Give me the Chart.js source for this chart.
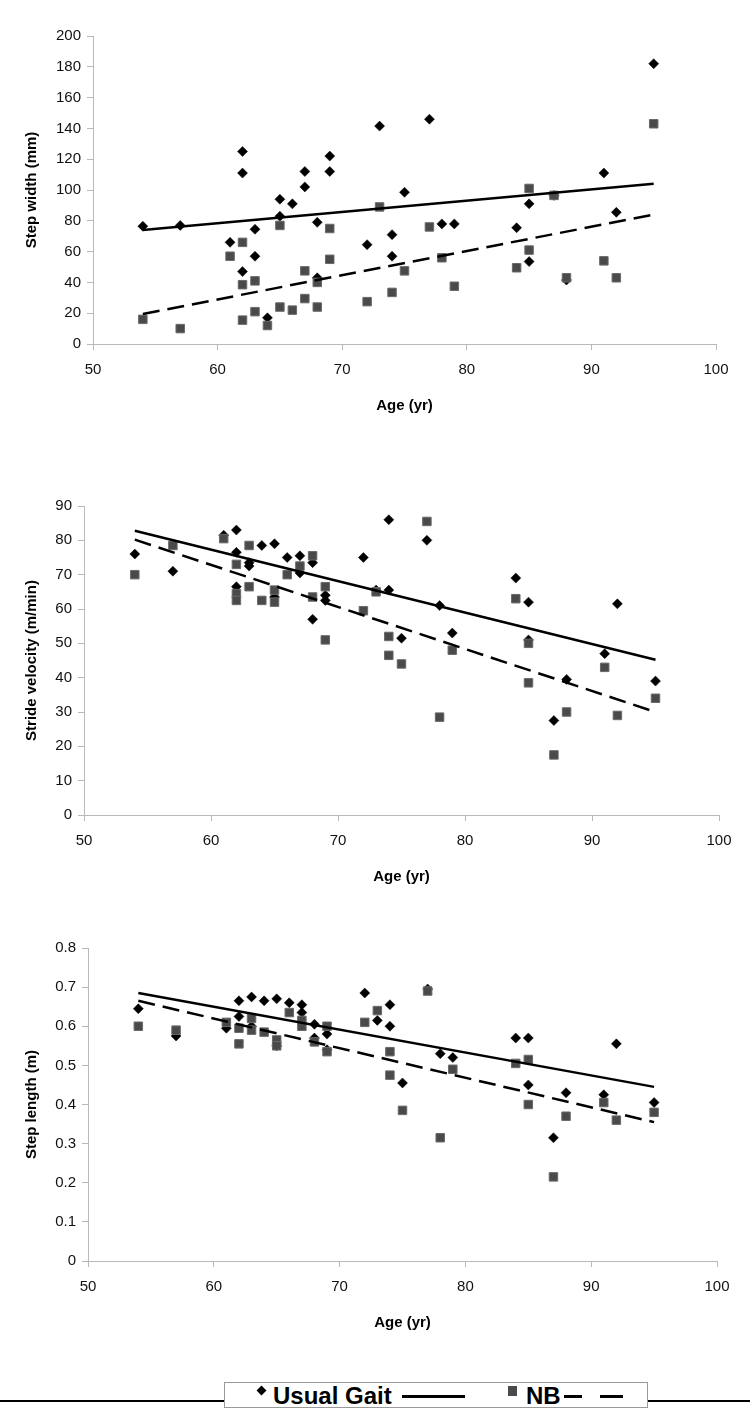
<!DOCTYPE html>
<html>
<head>
<meta charset="utf-8">
<script src="https://cdn.jsdelivr.net/npm/chart.js@4.4.1/dist/chart.umd.min.js"></script>
<style>
  body { margin: 0; background: #fff; width: 750px; height: 1408px; position: relative; overflow: hidden; font-family: "Liberation Sans", Arial, sans-serif; }
  canvas { position: absolute; left: 0; }
  #rule { position: absolute; left: 0; top: 1400px; width: 750px; height: 2px; background: #000; }
  #legend { position: absolute; left: 224px; top: 1382px; width: 424px; height: 26px; background: #fff; border: 1px solid #9a9a9a; box-sizing: border-box; }
  #legend .txt { position: absolute; top: 0; height: 25px; line-height: 25px; font-size: 24px; font-weight: bold; color: #000; white-space: nowrap; }
  #legend .diamond { position: absolute; width: 7px; height: 7px; background: #000; transform: rotate(45deg); }
  #legend .square { position: absolute; width: 9px; height: 10px; background: #4a4a4a; }
  #legend .stroke { position: absolute; height: 3px; background: #000; }
</style>
</head>
<body>
<canvas id="widthChart" width="750" height="415" style="top:0px"></canvas>
<canvas id="velocityChart" width="750" height="446" style="top:440px"></canvas>
<canvas id="lengthChart" width="750" height="442" style="top:890px"></canvas>

<div id="rule"></div>
<div id="legend">
  <div class="diamond" style="left:33px; top:4px;"></div>
  <div class="txt" style="left:48px;">Usual Gait</div>
  <div class="stroke" style="left:177px; top:12px; width:63px;"></div>
  <div class="square" style="left:283px; top:3px;"></div>
  <div class="txt" style="left:301px;">NB</div>
  <div class="stroke" style="left:339px; top:12px; width:18px;"></div>
  <div class="stroke" style="left:375px; top:12px; width:23px;"></div>
</div>

<script>
// Step width (mm)
const widthUsualAges = [54, 57, 61, 62, 62, 62, 63, 63, 64, 65, 65, 66, 67, 67, 68, 68, 69, 69, 72, 73, 74, 74, 75, 77, 78, 79, 84, 85, 85, 87, 88, 91, 92, 95];
const widthUsual = [76.5, 77, 66, 125, 111, 47, 74.5, 57, 17, 94, 83, 91, 112, 102, 79, 43, 122, 112, 64.5, 141.5, 71, 57, 98.5, 146, 78, 78, 75.5, 91, 53.5, 96.5, 41.5, 111, 85.5, 182];
const widthNbAges = [54, 57, 61, 62, 62, 62, 63, 63, 64, 65, 65, 66, 67, 67, 68, 68, 69, 69, 72, 73, 74, 75, 77, 78, 79, 84, 85, 85, 87, 88, 91, 92, 95];
const widthNb = [16, 10, 57, 66, 38.5, 15.5, 41, 21, 12, 77, 24, 22, 47.5, 29.5, 40, 24, 75, 55, 27.5, 89, 33.5, 47.5, 76, 56, 37.5, 49.5, 101, 61, 96.5, 43, 54, 43, 143];
const widthUsualTrend = [74, 104];
const widthNbTrend = [19.5, 84];

// Stride velocity (m/min)
const velocityUsualAges = [54, 57, 61, 62, 62, 62, 63, 63, 64, 65, 65, 66, 67, 67, 68, 68, 69, 69, 72, 73, 74, 74, 75, 77, 78, 79, 84, 85, 85, 87, 88, 91, 92, 95];
const velocityUsual = [76, 71, 81.5, 83, 76.5, 66.5, 73.5, 72.5, 78.5, 79, 63.5, 75, 75.5, 70.5, 73.5, 57, 64, 62.5, 75, 65.5, 86, 65.5, 51.5, 80, 61, 53, 69, 62, 51, 27.5, 39.5, 47, 61.5, 39];
const velocityNbAges = [54, 57, 61, 62, 62, 62, 63, 63, 64, 65, 65, 66, 67, 68, 68, 69, 69, 72, 73, 74, 74, 75, 77, 78, 79, 84, 85, 85, 87, 88, 91, 92, 95];
const velocityNb = [70, 78.5, 80.5, 73, 64.5, 62.5, 78.5, 66.5, 62.5, 65.5, 62, 70, 72.5, 75.5, 63.5, 66.5, 51, 59.5, 65, 52, 46.5, 44, 85.5, 28.5, 48, 63, 50, 38.5, 17.5, 30, 43, 29, 34];
const velocityUsualTrend = [82.8, 45.2];
const velocityNbTrend = [80.2, 30];

// Step length (m)
const lengthUsualAges = [54, 57, 61, 62, 62, 63, 63, 64, 65, 65, 66, 67, 67, 68, 68, 69, 69, 72, 73, 74, 74, 75, 77, 78, 79, 84, 85, 85, 87, 88, 91, 92, 95];
const lengthUsual = [0.645, 0.575, 0.595, 0.665, 0.625, 0.675, 0.6, 0.665, 0.67, 0.55, 0.66, 0.655, 0.635, 0.605, 0.57, 0.58, 0.54, 0.685, 0.615, 0.655, 0.6, 0.455, 0.695, 0.53, 0.52, 0.57, 0.57, 0.45, 0.315, 0.43, 0.425, 0.555, 0.405];
const lengthNbAges = [54, 57, 61, 62, 62, 63, 63, 64, 65, 65, 66, 67, 67, 68, 69, 69, 72, 73, 74, 74, 75, 77, 78, 79, 84, 85, 85, 87, 88, 91, 92, 95];
const lengthNb = [0.6, 0.59, 0.61, 0.595, 0.555, 0.62, 0.59, 0.585, 0.565, 0.55, 0.635, 0.615, 0.6, 0.56, 0.6, 0.535, 0.61, 0.64, 0.535, 0.475, 0.385, 0.69, 0.315, 0.49, 0.505, 0.515, 0.4, 0.215, 0.37, 0.405, 0.36, 0.38];
const lengthUsualTrend = [0.685, 0.445];
const lengthNbTrend = [0.665, 0.355];

const trendAges = [54, 95];
const axisGray = '#b9b9b9';

Chart.defaults.font.family = '"Liberation Sans", Arial, sans-serif';

const toPoints = (xs, ys) => xs.map((x, i) => ({ x: x, y: ys[i] }));

function buildChart(id, opts) {
    const ctx = document.getElementById(id).getContext('2d');
    return new Chart(ctx, {
        type: 'scatter',
        data: {
            datasets: [
                {
                    label: 'Usual Gait trend',
                    data: toPoints(trendAges, opts.usualTrend),
                    showLine: true,
                    borderColor: '#000',
                    borderWidth: 2.5,
                    pointRadius: 0,
                    order: 0
                },
                {
                    label: 'NB trend',
                    data: toPoints(trendAges, opts.nbTrend),
                    showLine: true,
                    borderColor: '#000',
                    borderWidth: 2.5,
                    borderDash: [17, 8],
                    pointRadius: 0,
                    order: 0
                },
                {
                    label: 'NB',
                    data: toPoints(opts.nbAges, opts.nb),
                    pointStyle: 'rect',
                    pointRadius: 6,
                    backgroundColor: '#4a4a4a',
                    borderColor: '#6a6a6a',
                    borderWidth: 1,
                    order: 1
                },
                {
                    label: 'Usual Gait',
                    data: toPoints(opts.usualAges, opts.usual),
                    pointStyle: 'rectRot',
                    pointRadius: 5,
                    backgroundColor: '#000',
                    borderColor: '#000',
                    borderWidth: 0.5,
                    order: 2
                }
            ]
        },
        options: {
            responsive: false,
            animation: false,
            layout: { padding: { top: opts.padTop, right: opts.padRight, left: 0, bottom: 0 } },
            plugins: {
                legend: { display: false },
                tooltip: { enabled: false }
            },
            scales: {
                x: {
                    type: 'linear',
                    min: 50,
                    max: 100,
                    ticks: { stepSize: 10, padding: 11, color: '#111', font: { size: 15 } },
                    grid: { drawOnChartArea: false, tickLength: 6, color: axisGray },
                    border: { color: axisGray },
                    title: { display: true, text: 'Age (yr)', color: '#000', font: { size: 15, weight: 'bold' }, padding: { top: 0, bottom: 0 } },
                    afterFit: s => { s.height = 71; }
                },
                y: {
                    min: 0,
                    max: opts.yMax,
                    ticks: { stepSize: opts.yStep, padding: 6, color: '#111', font: { size: 15 } },
                    grid: { drawOnChartArea: false, tickLength: 6, color: axisGray },
                    border: { color: axisGray },
                    title: { display: true, text: opts.yTitle, color: '#000', font: { size: 15, weight: 'bold' }, padding: { top: 23, bottom: 0 } },
                    afterFit: s => { s.width = opts.left; }
                }
            }
        }
    });
}

buildChart('widthChart', {
    usualAges: widthUsualAges, usual: widthUsual,
    nbAges: widthNbAges, nb: widthNb,
    usualTrend: widthUsualTrend, nbTrend: widthNbTrend,
    yMax: 200, yStep: 20, yTitle: 'Step width (mm)',
    left: 93, padTop: 36, padRight: 34
});

buildChart('velocityChart', {
    usualAges: velocityUsualAges, usual: velocityUsual,
    nbAges: velocityNbAges, nb: velocityNb,
    usualTrend: velocityUsualTrend, nbTrend: velocityNbTrend,
    yMax: 90, yStep: 10, yTitle: 'Stride velocity (m/min)',
    left: 84, padTop: 66, padRight: 31
});

buildChart('lengthChart', {
    usualAges: lengthUsualAges, usual: lengthUsual,
    nbAges: lengthNbAges, nb: lengthNb,
    usualTrend: lengthUsualTrend, nbTrend: lengthNbTrend,
    yMax: 0.8, yStep: 0.1, yTitle: 'Step length (m)',
    left: 88, padTop: 58, padRight: 33
});
</script>
</body>
</html>
